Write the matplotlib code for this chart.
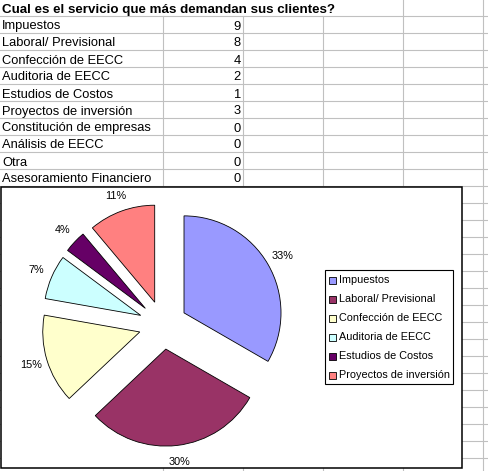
import matplotlib
matplotlib.use('Agg')
import matplotlib.pyplot as plt
from matplotlib.patches import Rectangle

plt.rcParams['font.family'] = ['Liberation Sans', 'DejaVu Sans']

title = "Cual es el servicio que más demandan sus clientes?"
categories = ["Impuestos", "Laboral/ Previsional", "Confección de EECC",
              "Auditoria de EECC", "Estudios de Costos", "Proyectos de inversión",
              "Constitución de empresas", "Análisis de EECC", "Otra",
              "Asesoramiento Financiero"]
counts = [9, 8, 4, 2, 1, 3, 0, 0, 0, 0]

# only the first six rows go into the chart
pie_labels = categories[:6]
pie_values = counts[:6]
pie_colors = ["#9999FF", "#993366", "#FFFFCC", "#CCFFFF", "#660066", "#FF8080"]

W, H = 488, 471
fig = plt.figure(figsize=(W / 100, H / 100), dpi=100)

# sheet background in pixel coords
bg = fig.add_axes([0, 0, 1, 1])
bg.set_xlim(0, W)
bg.set_ylim(H, 0)
bg.axis("off")

grid_col = "#c0c0c0"
row_h = 17
col_x = [163, 243, 323, 403, 483]
for k in range(27):
    y = 16 + row_h * k
    bg.plot([0, W], [y, y], color=grid_col, lw=0.8, zorder=1)
for x in col_x:
    # title overflows the first columns
    y0 = 0 if x > 340 else 16
    bg.plot([x, x], [y0, H], color=grid_col, lw=0.8, zorder=1)

bg.text(2, 12.5, title, fontsize=9.6, fontweight="bold", va="baseline", zorder=2)
for i, (name, n) in enumerate(zip(categories, counts)):
    base = 16 + row_h * (i + 1) - 3.5
    bg.text(2, base, name, fontsize=9.3, va="baseline", zorder=2)
    bg.text(241, base, str(n), fontsize=9.3, va="baseline", ha="right", zorder=2)

# chart area
cx0, cy0, cx1, cy1 = 1, 187, 462, 468
bg.add_patch(Rectangle((cx0, cy0), cx1 - cx0, cy1 - cy0, facecolor="white",
                       edgecolor="black", lw=1.1, zorder=3))

# legend
bg.add_patch(Rectangle((325, 270), 128, 114, facecolor="white",
                       edgecolor="black", lw=0.8, zorder=4))
for i, (name, col) in enumerate(zip(pie_labels, pie_colors)):
    yc = 280 + 19 * i
    bg.add_patch(Rectangle((329, yc - 3.5), 7, 7, facecolor=col,
                           edgecolor="black", lw=0.6, zorder=5))
    bg.text(339, yc, name, fontsize=7.8, va="center", zorder=5)

# pie axes, 97 px per unit radius, centre at (163, 325)
pcx, pcy, r = 163, 325, 97
ax = fig.add_axes([cx0 / W, (H - cy1) / H, (cx1 - cx0) / W, (cy1 - cy0) / H])
ax.pie(pie_values, colors=pie_colors, startangle=90, counterclock=False,
       explode=[0.25] * len(pie_values), autopct="%.0f%%", pctdistance=1.17,
       wedgeprops=dict(edgecolor="black", linewidth=0.6),
       textprops=dict(fontsize=7.8, color="black"))
ax.set_aspect("auto")
ax.set_xlim((cx0 - pcx) / r, (cx1 - pcx) / r)
ax.set_ylim(-(cy1 - pcy) / r, (pcy - cy0) / r)
ax.patch.set_visible(False)
ax.axis("off")

fig.savefig("out.png", dpi=100)
